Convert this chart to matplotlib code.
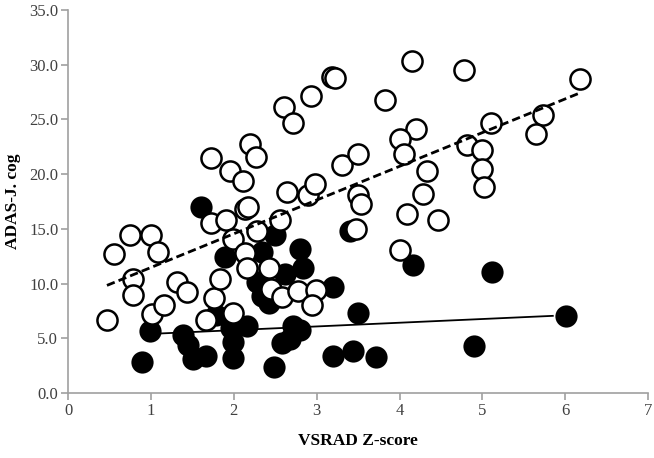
import numpy as np
import matplotlib
matplotlib.use("Agg")
import matplotlib.pyplot as plt

# open circles (upper group)
open_x = [0.47, 0.55, 0.75, 1.00, 1.08, 0.78, 0.79, 1.01, 1.16, 1.31, 1.44, 1.66, 1.76, 1.83,
          1.99, 1.73, 1.91, 1.99, 2.14, 2.16, 2.14, 2.17, 2.28, 2.43, 2.45, 2.58, 2.56, 2.78,
          2.99, 2.95, 2.64, 2.89, 2.98, 1.73, 1.96, 2.11, 2.19, 2.27, 2.61, 2.71, 2.93, 3.19,
          3.22, 3.31, 3.50, 3.50, 3.54, 3.48, 3.82, 4.15, 4.78, 6.18, 4.20, 4.01, 4.05, 4.33,
          4.28, 4.09, 4.47, 4.01, 4.81, 5.00, 4.99, 5.02, 5.10, 5.73, 5.65]
open_y = [6.7, 12.7, 14.4, 14.4, 12.9, 10.4, 9.0, 7.2, 8.0, 10.1, 9.2, 6.7, 8.7, 10.4,
          7.3, 15.5, 15.8, 14.1, 12.8, 11.4, 16.8, 17.0, 14.8, 11.4, 9.5, 8.8, 15.8, 9.3,
          9.4, 8.0, 18.4, 18.1, 19.1, 21.5, 20.3, 19.4, 22.8, 21.6, 26.1, 24.7, 27.1, 28.9,
          28.8, 20.8, 21.8, 18.1, 17.3, 15.0, 26.8, 30.3, 29.5, 28.7, 24.1, 23.2, 21.8, 20.3,
          18.2, 16.4, 15.8, 13.1, 22.7, 22.2, 20.5, 18.8, 24.7, 25.4, 23.7]

# filled circles (lower group)
fill_x = [1.61, 2.50, 2.80, 1.89, 2.34, 2.84, 2.62, 2.28, 2.34, 2.42, 3.20, 1.79, 0.99, 0.89,
          1.39, 1.45, 1.51, 1.66, 1.97, 2.16, 1.99, 1.99, 2.48, 2.58, 2.72, 2.80, 2.68, 3.20,
          3.44, 3.50, 3.40, 4.16, 5.12, 6.01, 4.90, 3.72]
fill_y = [17.0, 14.4, 13.2, 12.4, 12.9, 11.4, 10.9, 10.1, 8.9, 8.2, 9.7, 7.1, 5.7, 2.8,
          5.3, 4.4, 3.1, 3.4, 5.9, 6.1, 4.7, 3.2, 2.4, 4.6, 6.1, 5.8, 4.9, 3.4,
          3.8, 7.3, 14.8, 11.7, 11.1, 7.0, 4.3, 3.3]

# trend line of the filled group (slope, intercept, x range)
fill_trend = (0.34, 5.06)
fill_trend_x = [1.0, 5.85]

plt.rcParams['font.family'] = ['Liberation Serif', 'DejaVu Serif']

fig = plt.figure(figsize=(6.54, 4.58), dpi=100)
ax = fig.add_axes([0.104, 0.142, 0.887, 0.836])

ox, oy = np.array(open_x), np.array(open_y)
fx, fy = np.array(fill_x), np.array(fill_y)

ax.scatter(fx, fy, s=210, c='black', edgecolors='black', linewidths=1.5, zorder=2)
ax.scatter(ox, oy, s=210, c='white', edgecolors='black', linewidths=1.8, zorder=3)

# linear trend lines
k, b = np.polyfit(ox, oy, 1)
xs = np.array([ox.min(), ox.max()])
ax.plot(xs, k * xs + b, color='black', linestyle=(0, (3, 1.5)), linewidth=2, zorder=4)
xs2 = np.array(fill_trend_x)
ax.plot(xs2, fill_trend[0] * xs2 + fill_trend[1], color='black', linewidth=1.3, zorder=1.5)

ax.set_xlim(0, 7)
ax.set_ylim(0, 35)
ax.set_xticks(range(0, 8))
ax.set_yticks(np.arange(0, 36, 5))
ax.set_yticklabels([f"{v:.1f}" for v in np.arange(0, 36, 5)])
for s in ['top', 'right']:
    ax.spines[s].set_visible(False)
for s in ['left', 'bottom']:
    ax.spines[s].set_color('#a0a0a0')
    ax.spines[s].set_linewidth(1.2)
ax.tick_params(axis='both', colors='#a0a0a0', labelcolor='#404040', labelsize=12, length=5, width=1.2)
ax.tick_params(axis='x', pad=2)
ax.tick_params(axis='y', pad=2)

ax.set_xlabel('VSRAD Z-score', fontsize=12.5, fontweight='bold', labelpad=10)
ax.set_ylabel('ADAS-J. cog', fontsize=12.5, fontweight='bold', labelpad=6)

fig.savefig('out.png', dpi=100)
